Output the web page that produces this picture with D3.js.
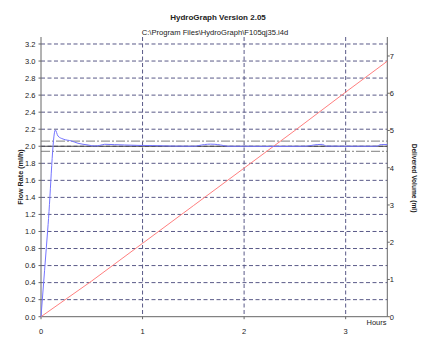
<html>
<head>
<script src="https://d3js.org/d3.v7.min.js"></script>
<style>
  body { margin: 0; background: #fff; }
  text { font-family: "Liberation Sans", Arial, sans-serif; fill: #222; }
</style>
</head>
<body>
<div id="chart"></div>
<script>
// flow rate (ml/h) readings, hours
const flowTimes = [0, 0.07, 0.141, 0.167, 0.217, 0.30, 0.364, 0.463, 0.528, 0.578, 0.627, 0.725, 0.824, 0.955,
                   1.1, 1.3, 1.5, 1.61, 1.67, 1.74, 1.85, 2.0, 2.3, 2.6, 2.72, 2.77, 2.81, 2.95, 3.15, 3.3, 3.35, 3.41];
const flowRates = [0, 1.08, 2.19, 2.12, 2.085, 2.062, 2.035, 2.015, 2.003, 2.01, 2.023, 2.019, 2.015, 2.01,
                   2.008, 2.002, 2.0, 2.02, 2.025, 2.02, 2.0, 2.0, 1.998, 2.0, 2.02, 2.022, 2.002, 2.0, 2.0, 2.0, 2.02, 2.02];

// delivered volume (ml)
const volTimes = [0, 0.5, 1, 1.5, 2, 2.5, 3, 3.41];
const volumes  = [0, 0.96, 1.97, 2.98, 3.99, 5.0, 6.03, 6.86];

const flowTicks = d3.range(0, 3.21, 0.2);
const volTicks = [0, 1, 2, 3, 4, 5, 6, 7];
const hourTicks = [0, 1, 2, 3];
const target = 2.0;
const tolerance = 0.06;

const svg = d3.select('#chart').append('svg')
    .attr('width', 435)
    .attr('height', 351);

const plot = { left: 41, right: 387.3, top: 37, bottom: 316.7 };

const x = d3.scaleLinear().domain([0, 3.41]).range([plot.left, plot.right]);
const yL = d3.scaleLinear().domain([0, 3.282]).range([plot.bottom, plot.top]);
const yR = d3.scaleLinear().domain([0, 7.51]).range([plot.bottom, plot.top]);

// titles
svg.append('text').attr('x', 218).attr('y', 19.5)
    .attr('text-anchor', 'middle').style('font-size', '8px').style('font-weight', 'bold')
    .text('HydroGraph Version 2.05');
svg.append('text').attr('x', 215).attr('y', 34.5)
    .attr('text-anchor', 'middle').style('font-size', '7.6px')
    .text('C:\\Program Files\\HydroGraph\\F105qj35.i4d');

// gridlines
svg.append('g').selectAll('line').data(flowTicks.filter(d => d > 0.01)).join('line')
    .attr('x1', plot.left).attr('x2', plot.right)
    .attr('y1', d => yL(d)).attr('y2', d => yL(d))
    .attr('stroke', '#5a5a88').attr('stroke-dasharray', '4,2.5');
svg.append('g').selectAll('line').data(hourTicks.filter(d => d > 0)).join('line')
    .attr('x1', d => x(d)).attr('x2', d => x(d))
    .attr('y1', plot.top).attr('y2', plot.bottom)
    .attr('stroke', '#5a5a88').attr('stroke-dasharray', '4,2.5');

// target band
[target + tolerance, target - tolerance].forEach(v => {
    svg.append('line').attr('x1', plot.left).attr('x2', plot.right)
        .attr('y1', yL(v)).attr('y2', yL(v))
        .attr('stroke', '#999').attr('stroke-width', 1.2).attr('stroke-dasharray', '9,2,2,2');
});
svg.append('line').attr('x1', plot.left).attr('x2', plot.right)
    .attr('y1', yL(target)).attr('y2', yL(target))
    .attr('stroke', '#444').attr('stroke-width', 1);

// axes lines
const axisColor = '#666';
svg.append('line').attr('x1', plot.left).attr('x2', plot.left).attr('y1', plot.top).attr('y2', plot.bottom).attr('stroke', axisColor);
svg.append('line').attr('x1', plot.right).attr('x2', plot.right).attr('y1', plot.top).attr('y2', plot.bottom).attr('stroke', axisColor);
svg.append('line').attr('x1', plot.left).attr('x2', plot.right).attr('y1', plot.bottom).attr('y2', plot.bottom).attr('stroke', axisColor);

// left ticks
const lt = svg.append('g');
lt.selectAll('line').data(flowTicks).join('line')
    .attr('x1', plot.left - 2.5).attr('x2', plot.left).attr('y1', d => yL(d)).attr('y2', d => yL(d)).attr('stroke', axisColor);
lt.selectAll('text').data(flowTicks).join('text')
    .attr('x', 35.5).attr('y', d => yL(d) + 2.8)
    .attr('text-anchor', 'end').style('font-size', '7.5px')
    .text(d => d3.format('.1f')(d));

// right ticks
const rt = svg.append('g');
rt.selectAll('line').data(volTicks).join('line')
    .attr('x1', plot.right).attr('x2', plot.right + 2.5).attr('y1', d => yR(d)).attr('y2', d => yR(d)).attr('stroke', axisColor);
rt.selectAll('text').data(volTicks).join('text')
    .attr('x', plot.right + 2.5).attr('y', d => yR(d) + 2.8)
    .style('font-size', '7.5px')
    .text(d => d);

// bottom ticks
const bt = svg.append('g');
bt.selectAll('line').data(hourTicks).join('line')
    .attr('x1', d => x(d)).attr('x2', d => x(d)).attr('y1', plot.bottom).attr('y2', plot.bottom + 2.5).attr('stroke', axisColor);
bt.selectAll('text').data(hourTicks).join('text')
    .attr('x', d => x(d)).attr('y', 333.5)
    .attr('text-anchor', 'middle').style('font-size', '7.5px')
    .text(d => d);

svg.append('text').attr('x', 386.5).attr('y', 324.8)
    .attr('text-anchor', 'end').style('font-size', '7.5px').text('Hours');

// axis titles
svg.append('text').attr('transform', 'translate(22.5,177) rotate(-90)')
    .attr('text-anchor', 'middle').style('font-size', '7.2px').style('font-weight', 'bold')
    .text('Flow Rate (ml/h)');
svg.append('text').attr('transform', 'translate(411.5,178) rotate(90)')
    .attr('text-anchor', 'middle').style('font-size', '6.6px').style('font-weight', 'bold')
    .text('Delivered Volume (ml)');

// series
const volLine = d3.line().x((d, i) => x(volTimes[i])).y(d => yR(d));
svg.append('path').datum(volumes)
    .attr('d', volLine)
    .attr('fill', 'none').attr('stroke', '#ff7f7f').attr('stroke-width', 1);

const flowLine = d3.line().x((d, i) => x(flowTimes[i])).y(d => yL(d)).curve(d3.curveMonotoneX);
svg.append('path').datum(flowRates)
    .attr('d', flowLine)
    .attr('fill', 'none').attr('stroke', '#7474ff').attr('stroke-width', 1);
</script>
</body>
</html>
